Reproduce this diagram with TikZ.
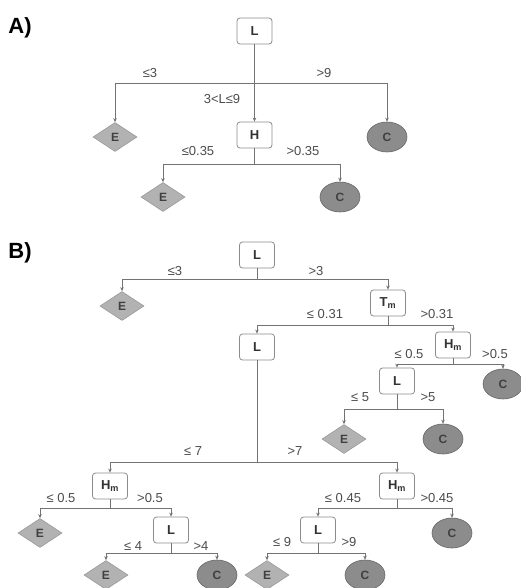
\documentclass[tikz,border=0pt]{standalone}
\usepackage{fontspec}
\setmainfont{Liberation Sans}
\usetikzlibrary{shapes.geometric,arrows.meta}
\begin{document}
\begin{tikzpicture}[x=1pt,y=-1pt,
 box/.style={draw=black!45, line width=0.8pt, rounded corners=3pt, fill=white, minimum width=35pt, minimum height=26pt, inner sep=0pt, font=\fontsize{13}{15}\selectfont\bfseries, text=black!80},
 leafE/.style={diamond, draw=black!40, line width=0.6pt, fill=black!30, minimum width=44pt, minimum height=29pt, inner sep=0pt, font=\fontsize{12}{14}\selectfont\bfseries, text=black!75},
 leafC/.style={ellipse, draw=black!60, line width=0.6pt, fill=black!45, minimum width=40pt, minimum height=30pt, inner sep=0pt, font=\fontsize{12}{14}\selectfont\bfseries, text=black!75},
 lab/.style={font=\fontsize{13}{15}\selectfont, text=black!70, inner sep=0pt},
 panel/.style={font=\fontsize{22}{24}\selectfont\bfseries, text=black, inner sep=0pt},
 ln/.style={draw=black!55, line width=0.7pt},
 arr/.style={ln, -{Stealth[length=4pt,width=3.5pt]}},
]
\useasboundingbox (0,0) rectangle (521,588);
\fill[white] (0,0) rectangle (521,588);

% ---------- Panel A ----------
\node[panel] (pA) at (20,28) {A)};
\node[box] (LA) at (254.5,31) {L};
\node[box] (HA) at (254.5,135) {H};
\node[leafE] (EA1) at (115,137) {E};
\node[leafC] (CA1) at (387,137) {C};
\node[leafE] (EA2) at (163,197) {E};
\node[leafC] (CA2) at (340,197) {C};
\coordinate (bA1) at (254.5,83);
\coordinate (bA2) at (254.5,164);
\draw[arr] (LA.south) -- (HA.north);
\draw[arr] (bA1) -| (EA1.north);
\draw[arr] (bA1) -| (CA1.north);
\draw[ln] (HA.south) -- (bA2);
\draw[arr] (bA2) -| (EA2.north);
\draw[arr] (bA2) -| (CA2.north);
\node[lab] (tA1) at (150,73) {≤3};
\node[lab] (tA2) at (324,73) {>9};
\node[lab] (tA3) at (222,99) {3<L≤9};
\node[lab] (tA4) at (198,151) {≤0.35};
\node[lab] (tA5) at (303,151) {>0.35};

% ---------- Panel B ----------
\node[panel] (pB) at (20,253) {B)};
\node[box] (LB) at (257,255) {L};
\node[leafE] (EB1) at (122,306) {E};
\node[box] (TB) at (388,303) {T\textsubscript{m}};
\node[box] (LB2) at (257,347) {L};
\node[box] (HB1) at (453,345) {H\textsubscript{m}};
\node[box] (LB3) at (397,381) {L};
\node[leafC] (CB1) at (503,384) {C};
\node[leafE] (EB2) at (344,439) {E};
\node[leafC] (CB2) at (443,439) {C};
\node[box] (HB2) at (110,486) {H\textsubscript{m}};
\node[box] (HB3) at (397,486) {H\textsubscript{m}};
\node[leafE] (EB3) at (40,533) {E};
\node[box] (LB4) at (171,530) {L};
\node[leafE] (EB4) at (106,575) {E};
\node[leafC] (CB3) at (217,575) {C};
\node[box] (LB5) at (318,530) {L};
\node[leafC] (CB4) at (452,533) {C};
\node[leafE] (EB5) at (267,575) {E};
\node[leafC] (CB5) at (365,575) {C};

\coordinate (bB1) at (257,279);
\coordinate (bB2) at (388,325);
\coordinate (bB3) at (453,364);
\coordinate (bB4) at (397,409);
\coordinate (bB5) at (257,462);
\coordinate (bB6) at (110,508);
\coordinate (bB7) at (397,508);
\coordinate (bB8) at (171,553);
\coordinate (bB9) at (318,553);

\draw[ln] (LB.south) -- (bB1);
\draw[arr] (bB1) -| (EB1.north);
\draw[arr] (bB1) -| (TB.north);
\draw[ln] (TB.south) -- (bB2);
\draw[arr] (bB2) -| (LB2.north);
\draw[arr] (bB2) -| (HB1.north);
\draw[ln] (HB1.south) -- (bB3);
\draw[arr] (bB3) -| (LB3.north);
\draw[arr] (bB3) -| (CB1.north);
\draw[ln] (LB3.south) -- (bB4);
\draw[arr] (bB4) -| (EB2.north);
\draw[arr] (bB4) -| (CB2.north);
\draw[ln] (LB2.south) -- (bB5);
\draw[arr] (bB5) -| (HB2.north);
\draw[arr] (bB5) -| (HB3.north);
\draw[ln] (HB2.south) -- (bB6);
\draw[arr] (bB6) -| (EB3.north);
\draw[arr] (bB6) -| (LB4.north);
\draw[ln] (LB4.south) -- (bB8);
\draw[arr] (bB8) -| (EB4.north);
\draw[arr] (bB8) -| (CB3.north);
\draw[ln] (HB3.south) -- (bB7);
\draw[arr] (bB7) -| (LB5.north);
\draw[arr] (bB7) -| (CB4.north);
\draw[ln] (LB5.south) -- (bB9);
\draw[arr] (bB9) -| (EB5.north);
\draw[arr] (bB9) -| (CB5.north);

\node[lab] (tB1) at (175,271) {≤3};
\node[lab] (tB2) at (316,271) {>3};
\node[lab] (tB3) at (325,314) {≤ 0.31};
\node[lab] (tB4) at (437,314) {>0.31};
\node[lab] (tB5) at (409,354) {≤ 0.5};
\node[lab] (tB6) at (495,354) {>0.5};
\node[lab] (tB7) at (360,397) {≤ 5};
\node[lab] (tB8) at (428,397) {>5};
\node[lab] (tB9) at (193,451) {≤ 7};
\node[lab] (tB10) at (295,451) {>7};
\node[lab] (tB11) at (61,498) {≤ 0.5};
\node[lab] (tB12) at (150,498) {>0.5};
\node[lab] (tB13) at (343,498) {≤ 0.45};
\node[lab] (tB14) at (437,498) {>0.45};
\node[lab] (tB15) at (133,546) {≤ 4};
\node[lab] (tB16) at (201,546) {>4};
\node[lab] (tB17) at (282,542) {≤ 9};
\node[lab] (tB18) at (349,542) {>9};
\end{tikzpicture}
\end{document}
